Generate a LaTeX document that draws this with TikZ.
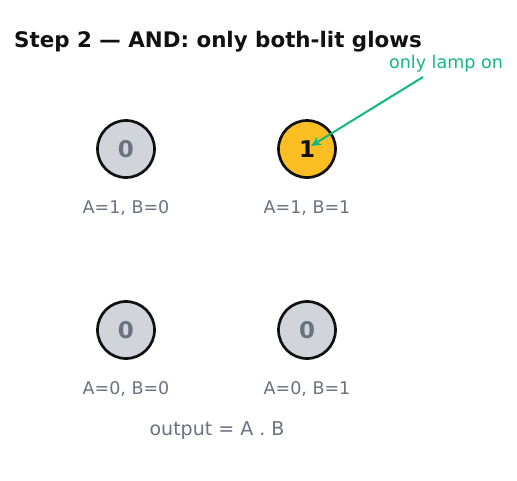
\documentclass[tikz,border=0pt]{standalone}
\usepackage{fontspec}
\setmainfont{DejaVu Sans}
\usetikzlibrary{arrows.meta}
\definecolor{lampoff}{HTML}{D1D5DB}
\definecolor{lampon}{HTML}{FBBF24}
\definecolor{txtgray}{HTML}{6B7280}
\definecolor{ink}{HTML}{111111}
\definecolor{note}{HTML}{10B981}
\tikzset{
  lamp/.style={circle, draw=ink, line width=2.7pt, minimum size=57pt, inner sep=0pt, font=\fontsize{23}{25}\selectfont\bfseries},
  off/.style={lamp, fill=lampoff, text=txtgray},
  on/.style={lamp, fill=lampon, text=ink},
  caption/.style={anchor=base, text=txtgray, font=\fontsize{17.5}{20}\selectfont, inner sep=0pt},
}
\begin{document}
\begin{tikzpicture}[x=1pt,y=-1pt]
\path[use as bounding box, fill=white] (0,0) rectangle (517,480);
\node[anchor=base west, inner sep=0pt, text=ink, font=\fontsize{21.4}{24}\selectfont\bfseries] (title) at (14,47) {Step 2 — AND: only both-lit glows};
\node[off] (l10) at (126,149) {0};
\node[on] (l11) at (307,149) {1};
\node[off] (l00) at (126,330) {0};
\node[off] (l01) at (307,330) {0};
\node[caption] (c10) at (126,213) {A=1, B=0};
\node[caption] (c11) at (307,213) {A=1, B=1};
\node[caption] (c00) at (126,394) {A=0, B=0};
\node[caption] (c01) at (307,394) {A=0, B=1};
\node[caption, font=\fontsize{19}{22}\selectfont] (out) at (217,435) {output = A . B};
\node[caption, text=note] (note) at (446,68) {only lamp on};
\coordinate (ns) at (423,77);
\coordinate (ne) at (311,146);
\draw[note, line width=2pt, -{Stealth[length=10pt,width=9pt]}] (ns) -- (ne);
\end{tikzpicture}
\end{document}
